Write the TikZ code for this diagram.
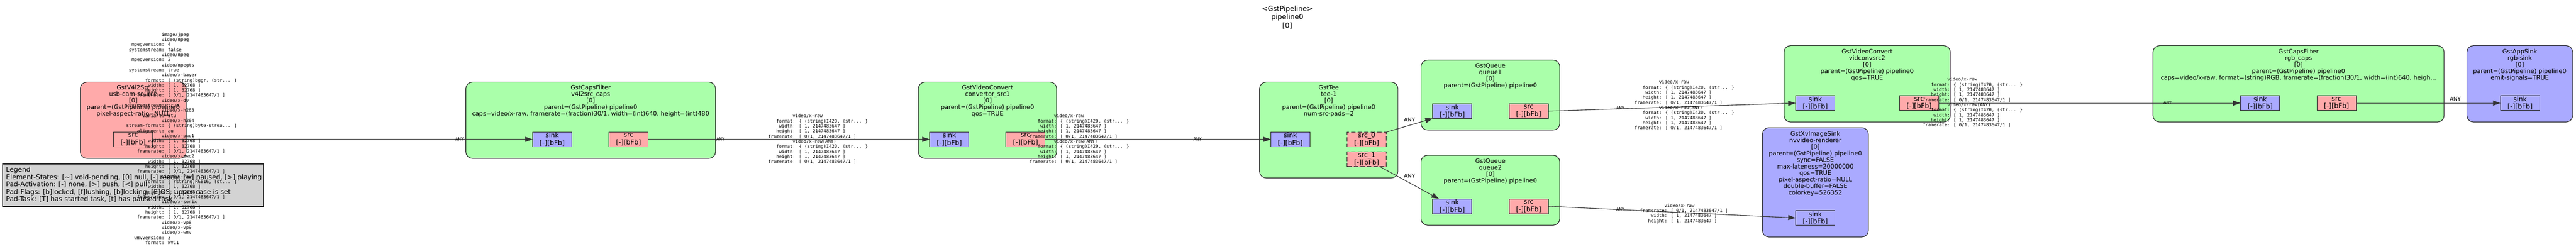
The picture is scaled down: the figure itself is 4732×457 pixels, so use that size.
\documentclass[tikz,border=0pt]{standalone}
\usepackage{fontspec}
\usetikzlibrary{arrows.meta}
\newfontfamily\gsans{DejaVu Sans}
\newfontfamily\gmono{DejaVu Sans Mono}
\definecolor{elemc}{HTML}{AAFFAA}
\definecolor{srcc}{HTML}{FFAAAA}
\definecolor{sinkc}{HTML}{AAAAFF}
\definecolor{legc}{HTML}{D3D3D3}
\newlength\kvw
\newcommand\kv[2]{\makebox[\kvw][r]{#1}: #2}
\newcommand\rawfields{\kv{format}{\{ (string)I420, (str... \}}\\\kv{width}{[ 1, 2147483647 ]}\\\kv{height}{[ 1, 2147483647 ]}\\\kv{framerate}{[ 0/1, 2147483647/1 ]}}
\newcommand\rawcaps{video/x-raw\\\rawfields\\video/x-raw(ANY)\\\rawfields}
\newcommand\whf{\kv{width}{[ 1, 32768 ]}\\\kv{height}{[ 1, 32768 ]}\\\kv{framerate}{[ 0/1, 2147483647/1 ]}}
\begin{document}
\begin{tikzpicture}[x=1pt,y=-1pt,
  elem/.style={draw=black!85, line width=1.1pt, rounded corners=12pt, inner sep=0pt, outer sep=0pt},
  padbox/.style={draw=black!85, line width=1.1pt, inner sep=0pt, outer sep=0pt, minimum width=72pt, minimum height=27pt, align=center, font=\gsans\fontsize{12.2}{13.5}\selectfont},
  etext/.style={font=\gsans\fontsize{11.1}{12}\selectfont, align=center, inner sep=0pt},
  ttext/.style={font=\gsans\fontsize{12.85}{15.2}\selectfont, align=center, inner sep=0pt},
  ltext/.style={font=\gsans\fontsize{12.2}{13.5}\selectfont, align=left, inner sep=0pt, anchor=west},
  capsblk/.style={font=\gmono\fontsize{8.3}{9.33}\selectfont, align=left, inner sep=0pt, anchor=west},
  anys/.style={font=\gmono\fontsize{8.3}{9.33}\selectfont, inner sep=0pt},
  anyb/.style={font=\gsans\fontsize{10}{12}\selectfont, inner sep=0pt},
  conn/.style={draw=black!80, line width=1.1pt, -{Triangle[length=13.8pt,width=9.3pt]}},
]
\settowidth{\kvw}{\gmono\fontsize{8.3}{9.33}\selectfont 00000000000000000000}
\fill[white] (0,0) rectangle (4732,457);
\useasboundingbox (0,0) rectangle (4732,457);

% title
\node[ttext] (title) at (2364.8,31.9) {<GstPipeline>\\pipeline0\\{}[0]};

% legend
\node[draw=black!85, line width=1.1pt, fill=legc, minimum width=479.4pt, minimum height=78pt, inner sep=0pt] (legend) at (244.3,340) {};
\node[ltext] (legendT) at (11,339.2) {Legend\\Element-States: [\textasciitilde] void-pending, [0] null, [-] ready, [=] paused, [>] playing\\Pad-Activation: [-] none, [>] push, [<] pull\\Pad-Flags: [b]locked, [f]lushing, [b]locking, [E]OS; upper-case is set\\Pad-Task: [T] has started task, [t] has paused task};

% source
\node[elem, fill=srcc, minimum width=194.6pt, minimum height=140pt] (src) at (244.8,220.7) {};
\node[etext] (srcT) at (244.8,185.8) {GstV4l2Src\\usb-cam-source\\{}[0]\\parent=(GstPipeline) pipeline0\\pixel-aspect-ratio=NULL};
\node[padbox, fill=srcc] (srcP) at (244.55,255.8) {src\\{}[-][bFb]};

% capsfilter 1
\node[elem, fill=elemc, minimum width=458.7pt, minimum height=140pt] (cf1) at (1085.05,220.7) {};
\node[etext] (cf1T) at (1085.05,185.8) {GstCapsFilter\\v4l2src\_caps\\{}[0]\\parent=(GstPipeline) pipeline0\\caps=video/x-raw, framerate=(fraction)30/1, width=(int)640, height=(int)480};
\node[padbox, fill=sinkc] (cf1sink) at (1014.45,255.8) {sink\\{}[-][bFb]};
\node[padbox, fill=srcc] (cf1src) at (1154.55,255.8) {src\\{}[-][bFb]};

% videoconvert 1
\node[elem, fill=elemc, minimum width=254pt, minimum height=140pt] (vc1) at (1814,220.7) {};
\node[etext] (vc1T) at (1814,185.8) {GstVideoConvert\\convertor\_src1\\{}[0]\\parent=(GstPipeline) pipeline0\\qos=TRUE};
\node[padbox, fill=sinkc] (vc1sink) at (1743.8,255.8) {sink\\{}[-][bFb]};
\node[padbox, fill=srcc] (vc1src) at (1883.9,255.8) {src\\{}[-][bFb]};

% tee
\node[elem, fill=elemc, minimum width=254.2pt, minimum height=176pt] (tee) at (2440.8,238.7) {};
\node[etext] (teeT) at (2440.8,185.8) {GstTee\\tee-1\\{}[0]\\parent=(GstPipeline) pipeline0\\num-src-pads=2};
\node[padbox, fill=sinkc] (teesink) at (2370.25,255.8) {sink\\{}[-][bFb]};
\node[padbox, fill=srcc, dash pattern=on 8pt off 4pt] (tee0) at (2510.5,256) {src\_0\\{}[-][bFb]};
\node[padbox, fill=srcc, dash pattern=on 8pt off 4pt] (tee1) at (2510.5,292) {src\_1\\{}[-][bFb]};

% queue1
\node[elem, fill=elemc, minimum width=254.9pt, minimum height=128.4pt] (q1) at (2737.75,174.5) {};
\node[etext] (q1T) at (2737.75,140) {GstQueue\\queue1\\{}[0]\\parent=(GstPipeline) pipeline0};
\node[padbox, fill=sinkc] (q1sink) at (2667.85,204) {sink\\{}[-][bFb]};
\node[padbox, fill=srcc] (q1src) at (2808.05,204) {src\\{}[-][bFb]};

% queue2
\node[elem, fill=elemc, minimum width=254.9pt, minimum height=128.3pt] (q2) at (2737.75,349.15) {};
\node[etext] (q2T) at (2737.75,314.1) {GstQueue\\queue2\\{}[0]\\parent=(GstPipeline) pipeline0};
\node[padbox, fill=sinkc] (q2sink) at (2667.85,378.65) {sink\\{}[-][bFb]};
\node[padbox, fill=srcc] (q2src) at (2808.05,378.65) {src\\{}[-][bFb]};

% videoconvert 2
\node[elem, fill=elemc, minimum width=305.4pt, minimum height=140.3pt] (vc2) at (3429.9,153.85) {};
\node[etext] (vc2T) at (3429.9,119.1) {GstVideoConvert\\vidconvsrc2\\{}[0]\\parent=(GstPipeline) pipeline0\\qos=TRUE};
\node[padbox, fill=sinkc] (vc2sink) at (3334.6,189.2) {sink\\{}[-][bFb]};
\node[padbox, fill=srcc] (vc2src) at (3525.25,189.2) {src\\{}[-][bFb]};

% xvimagesink
\node[elem, fill=sinkc, minimum width=194.6pt, minimum height=200.7pt] (isink) at (3334.8,334.65) {};
\node[etext] (isinkT) at (3334.8,300.1) {GstXvImageSink\\nvvideo-renderer\\{}[0]\\parent=(GstPipeline) pipeline0\\sync=FALSE\\max-lateness=20000000\\qos=TRUE\\pixel-aspect-ratio=NULL\\double-buffer=FALSE\\colorkey=526352};
\node[padbox, fill=sinkc] (isinkP) at (3334.6,400) {sink\\{}[-][bFb]};

% capsfilter 2
\node[elem, fill=elemc, minimum width=534.8pt, minimum height=140.3pt] (cf2) at (4222.2,153.85) {};
\node[etext] (cf2T) at (4222.2,119.1) {GstCapsFilter\\rgb\_caps\\{}[0]\\parent=(GstPipeline) pipeline0\\caps=video/x-raw, format=(string)RGB, framerate=(fraction)30/1, width=(int)640, heigh...};
\node[padbox, fill=sinkc] (cf2sink) at (4151.8,189.2) {sink\\{}[-][bFb]};
\node[padbox, fill=srcc] (cf2src) at (4292,189.2) {src\\{}[-][bFb]};

% appsink
\node[elem, fill=sinkc, minimum width=194.2pt, minimum height=140.3pt] (app) at (4628.7,153.85) {};
\node[etext] (appT) at (4628.7,119.1) {GstAppSink\\rgb-sink\\{}[0]\\parent=(GstPipeline) pipeline0\\emit-signals=TRUE};
\node[padbox, fill=sinkc] (appP) at (4629.3,189.2) {sink\\{}[-][bFb]};

% connectors
\draw[conn] (srcP.east) -- (cf1sink.west);
\draw[conn] (cf1src.east) -- (vc1sink.west);
\draw[conn] (vc1src.east) -- (teesink.west);
\draw[conn] (tee0.north east) -- (q1sink.south west);
\draw[conn] ([xshift=-12.4pt]tee1.south east) -- ([xshift=11.6pt]q2sink.north west);
\draw[conn] (q1src.east) -- (vc2sink.west);
\draw[conn] (q2src.east) -- (isinkP.west);
\draw[conn] (vc2src.east) -- (cf2sink.west);
\draw[conn] (cf2src.east) -- (appP.west);

% caps texts
\node[capsblk] (capsA) at (296.7,254.2) {image/jpeg\\video/mpeg\\\kv{mpegversion}{4}\\\kv{systemstream}{false}\\video/mpeg\\\kv{mpegversion}{2}\\video/mpegts\\\kv{systemstream}{true}\\video/x-bayer\\\kv{format}{\{ (string)bggr, (str... \}}\\\whf\\video/x-dv\\\kv{systemstream}{true}\\video/x-h263\\\kv{variant}{itu}\\video/x-h264\\\kv{stream-format}{\{ (string)byte-strea... \}}\\\kv{alignment}{au}\\video/x-pwc1\\\whf\\video/x-pwc2\\\whf\\video/x-raw\\\kv{format}{\{ (string)RGB16, (st... \}}\\\whf\\video/x-sonix\\\whf\\video/x-vp8\\video/x-vp9\\video/x-wmv\\\kv{wmvversion}{3}\\\kv{format}{WVC1}};
\node[capsblk] (capsB) at (1456,255.2) {\rawcaps};
\node[capsblk] (capsC) at (1935.8,255.2) {\rawcaps};
\node[capsblk] (capsD) at (3047.3,193.3) {\rawcaps};
\node[capsblk] (capsE) at (3057.3,392) {video/x-raw\\\kv{framerate}{[ 0/1, 2147483647/1 ]}\\\kv{width}{[ 1, 2147483647 ]}\\\kv{height}{[ 1, 2147483647 ]}};
\node[capsblk] (capsF) at (3576.8,188.2) {\rawcaps};

% pad caps labels
\node[anys] (any1) at (844,255) {ANY};
\node[anys] (any2) at (1323.5,255) {ANY};
\node[anys] (any3) at (2199.8,255) {ANY};
\node[anys] (any4) at (2976.7,198) {ANY};
\node[anys] (any5) at (2976.7,384) {ANY};
\node[anys] (any6) at (3981.7,188.3) {ANY};
\node[anyb] (any7) at (2589.3,219.7) {ANY};
\node[anyb] (any8) at (2589.3,322.7) {ANY};
\node[anyb] (any9) at (4510.2,181.7) {ANY};
\end{tikzpicture}
\end{document}
